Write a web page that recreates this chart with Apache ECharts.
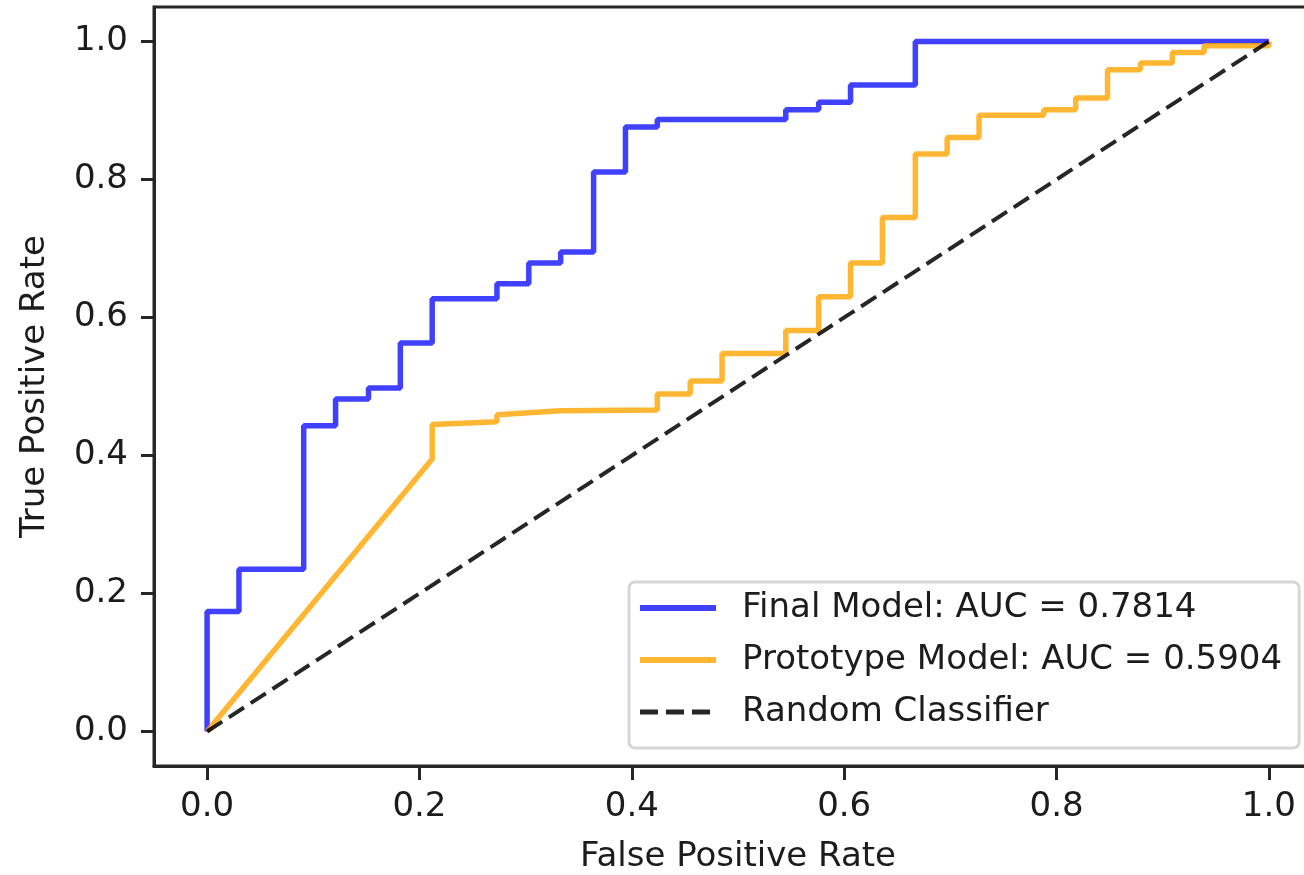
<!DOCTYPE html>
<html>
<head>
<meta charset="utf-8">
<script src="https://cdn.jsdelivr.net/npm/echarts@6/dist/echarts.min.js"></script>
<style>
html,body{margin:0;padding:0;background:#fff;overflow:hidden;}
#chart{width:1330px;height:875px;}
</style>
</head>
<body>
<div id="chart"></div>
<script>
// ---- data ----
const seriesNames = ['Final Model: AUC = 0.7814', 'Prototype Model: AUC = 0.5904', 'Random Classifier'];

const finalFpr = [0, 0, 0.030, 0.030, 0.091, 0.091, 0.121, 0.121, 0.152, 0.152, 0.182, 0.182, 0.212, 0.212, 0.273, 0.273, 0.303, 0.303, 0.333, 0.333, 0.364, 0.364, 0.394, 0.394, 0.424, 0.424, 0.545, 0.545, 0.576, 0.576, 0.606, 0.606, 0.667, 0.667, 1.0];
const finalTpr = [0, 0.174, 0.174, 0.235, 0.235, 0.443, 0.443, 0.482, 0.482, 0.498, 0.498, 0.563, 0.563, 0.627, 0.627, 0.649, 0.649, 0.679, 0.679, 0.695, 0.695, 0.811, 0.811, 0.876, 0.876, 0.887, 0.887, 0.901, 0.901, 0.912, 0.912, 0.937, 0.937, 1.0, 1.0];

const protoFpr = [0, 0.212, 0.212, 0.273, 0.273, 0.333, 0.424, 0.424, 0.455, 0.455, 0.485, 0.485, 0.545, 0.545, 0.576, 0.576, 0.606, 0.606, 0.636, 0.636, 0.667, 0.667, 0.697, 0.697, 0.727, 0.727, 0.788, 0.788, 0.818, 0.818, 0.848, 0.848, 0.879, 0.879, 0.909, 0.909, 0.939, 0.939, 1.0, 1.0];
const protoTpr = [0, 0.395, 0.445, 0.449, 0.459, 0.465, 0.466, 0.489, 0.489, 0.508, 0.508, 0.548, 0.548, 0.581, 0.581, 0.630, 0.630, 0.679, 0.679, 0.745, 0.745, 0.837, 0.837, 0.861, 0.861, 0.893, 0.893, 0.901, 0.901, 0.918, 0.918, 0.959, 0.959, 0.969, 0.969, 0.984, 0.984, 0.994, 0.994, 1.0];

const randomFpr = [0, 1];
const randomTpr = [0, 1];

const tickValues = [0, 0.2, 0.4, 0.6, 0.8, 1.0];
const xLabel = 'False Positive Rate';
const yLabel = 'True Positive Rate';

// ---- chart ----
const FONT = '"DejaVu Sans", "Liberation Sans", sans-serif';
const TXT = '#1c1c1c';
const zip = (a, b) => a.map((v, i) => [v, b[i]]);

const chart = echarts.init(document.getElementById('chart'), null, {renderer: 'canvas'});

const axisCommon = {
  type: 'value',
  min: -0.05,
  max: 1.05,
  splitLine: {show: false},
  axisLine: {show: true, onZero: false, lineStyle: {color: '#262626', width: 3}},
  axisTick: {show: true, customValues: tickValues, length: 14, lineStyle: {color: '#262626', width: 3}},
  axisLabel: {customValues: tickValues, formatter: v => v.toFixed(1), fontFamily: FONT, fontSize: 34, color: TXT},
  nameLocation: 'middle',
  nameTextStyle: {fontFamily: FONT, fontSize: 34, color: TXT}
};

chart.setOption({
  animation: false,
  backgroundColor: '#fff',
  grid: {left: 154, top: 7, width: 1168, height: 759, outerBoundsMode: 'none', containLabel: false,
         show: true, borderColor: '#262626', borderWidth: 3, backgroundColor: 'transparent'},
  xAxis: Object.assign({}, axisCommon, {
    name: xLabel, nameGap: 74,
    axisLabel: Object.assign({}, axisCommon.axisLabel, {margin: 24})
  }),
  yAxis: Object.assign({}, axisCommon, {
    name: yLabel, nameGap: 102, nameRotate: 90,
    axisTick: Object.assign({}, axisCommon.axisTick, {length: 13}),
    axisLabel: Object.assign({}, axisCommon.axisLabel, {margin: 26})
  }),
  legend: {
    orient: 'vertical',
    left: 629, top: 582,
    padding: [9, 17, 19, 8],
    itemWidth: 76, itemHeight: 20, itemGap: 18,
    borderColor: '#d6d6d6', borderWidth: 3, borderRadius: 6,
    backgroundColor: '#fff',
    itemStyle: {opacity: 0, borderWidth: 0},
    textStyle: {fontFamily: FONT, fontSize: 34, color: TXT, lineHeight: 34, padding: [0, 0, 0, 21]},
    data: [
      {name: seriesNames[0], lineStyle: {width: 6}},
      {name: seriesNames[1], lineStyle: {width: 6}},
      {name: seriesNames[2], lineStyle: {width: 5}}
    ]
  },
  series: [
    {name: seriesNames[0], type: 'line', data: zip(finalFpr, finalTpr), symbol: 'none',
     lineStyle: {color: 'rgba(0,0,255,0.75)', width: 5.5}, itemStyle: {color: 'rgba(0,0,255,0.75)'}},
    {name: seriesNames[1], type: 'line', data: zip(protoFpr, protoTpr), symbol: 'none',
     lineStyle: {color: 'rgba(255,165,0,0.8)', width: 5.5}, itemStyle: {color: 'rgba(255,165,0,0.8)'}},
    {name: seriesNames[2], type: 'line', data: zip(randomFpr, randomTpr), symbol: 'none',
     lineStyle: {color: 'rgba(0,0,0,0.85)', width: 4, type: [18, 8]}, itemStyle: {color: 'rgba(0,0,0,0.85)'}}
  ]
});
</script>
</body>
</html>
